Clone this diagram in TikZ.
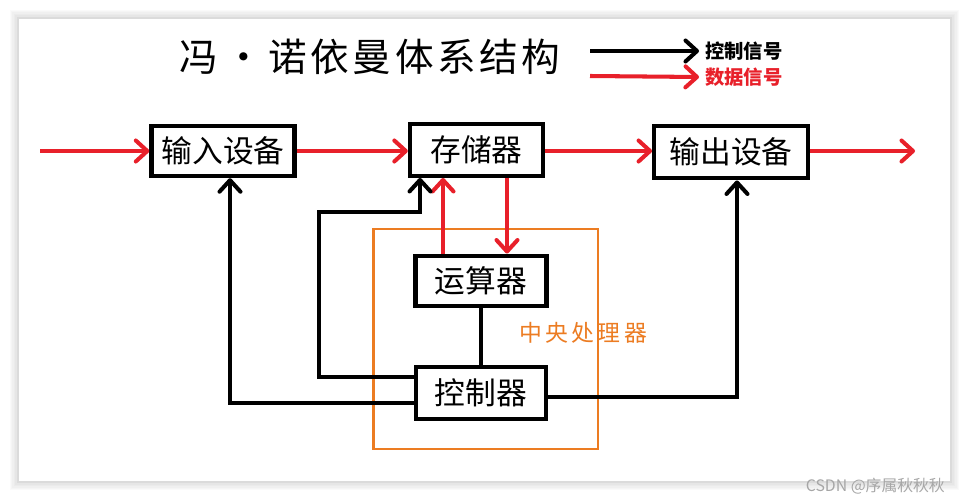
\documentclass[tikz,border=0pt]{standalone}
\usepackage{fontspec}
\usepackage{xcolor}
\usepackage{tikz}
\usetikzlibrary{positioning,arrows.meta}
\newfontfamily\cjk{Noto Sans CJK SC}
\newfontfamily\cjkwide[LetterSpace=9]{Noto Sans CJK SC}
\newfontfamily\cjkwider[LetterSpace=15]{Noto Sans CJK SC}
\definecolor{datared}{RGB}{232,32,42}
\definecolor{cpuorange}{RGB}{236,124,34}

\begin{document}
\begin{tikzpicture}[x=0.02cm, y=-0.02cm, font=\cjk,
    block/.style={rectangle, draw, line width=2.5pt, fill=white, font=\cjk\fontsize{17.5}{17.5}\selectfont, inner sep=2pt},
    sigarrow/.style={line width=2.3pt, -{Straight Barb[round, length=2.3mm, width=4.2mm]}},
    dataarrow/.style={sigarrow, draw=datared},
    wire/.style={line width=2.3pt},
    cpu/.style={rectangle, draw=cpuorange, line width=1.4pt, minimum width=4.49cm, minimum height=4.41cm}]

    \useasboundingbox (0,0) rectangle (969,500);
    \foreach \w in {1,...,6}
        \draw[black, opacity=0.02, line width=\w*1.6pt] (18,18) rectangle (951,482);
    \fill[white] (18,18) rectangle (951,482);
    \draw[black!14, line width=0.6pt] (18,18) rectangle (951,482);

    \node[font=\cjkwide\fontsize{22}{22}\selectfont] (title) at (370,57) {冯\hspace{0.15em}•\hspace{0.15em}诺依曼体系结构};
    \node[font=\cjk\bfseries\fontsize{11}{11}\selectfont, anchor=west] (lgsig) at (699,51) {控制信号};
    \node[font=\cjk\bfseries\fontsize{11}{11}\selectfont, anchor=west, text=datared] (lgdata) at (699,77) {数据信号};
    \coordinate (lgsigstart) at (590,51);
    \coordinate (lgdatastart) at (590,76);
    \draw[sigarrow] (lgsigstart) -- (lgsig.west);
    \draw[dataarrow] (lgdatastart) -- (lgdata.west);

    \node[cpu] (cpu) at (485.5,339) {};
    \node[text=cpuorange, font=\cjkwider\fontsize{13}{13}\selectfont] (cpulabel) at (583,333) {中央处理器};

    \node[block, minimum width=2.86cm, minimum height=1.0cm] (input) at (223,151) {输入设备};
    \node[block, minimum width=2.66cm, minimum height=1.03cm] (mem) at (476.5,150) {存储器};
    \node[block, minimum width=3.07cm, minimum height=1.05cm] (output) at (731,152) {输出设备};
    \node[block, minimum width=2.62cm, minimum height=1.01cm] (alu) at (481,281) {运算器};
    \node[block, minimum width=2.6cm, minimum height=1.03cm] (cu) at (481,393) {控制器};

    \coordinate (src) at (40,151);
    \coordinate (sink) at (915,151);
    \draw[dataarrow] (src) -- (input.west |- src);
    \draw[dataarrow] (input.east |- src) -- (mem.west |- src);
    \draw[dataarrow] (mem.east |- src) -- (output.west |- src);
    \draw[dataarrow] (output.east |- src) -- (sink);

    \coordinate (upfoot) at ([xshift=-0.76cm]alu.north);
    \coordinate (downfoot) at ([xshift=0.52cm]alu.north);
    \draw[dataarrow] (upfoot) -- (upfoot |- mem.south);
    \draw[dataarrow] (downfoot |- mem.south) -- (downfoot);

    \coordinate (bend) at (319,212);
    \draw[wire] (alu) -- (cu);
    \draw[sigarrow] ([yshift=-0.2cm]cu.west) -| ([xshift=0.14cm]input.south);
    \draw[sigarrow] ([yshift=0.32cm]cu.west) -| (bend) -| ([xshift=-1.13cm]mem.south);
    \draw[sigarrow] ([yshift=-0.08cm]cu.east) -| ([xshift=0.12cm]output.south);

    \node[anchor=east, text=black!35, font=\cjk\fontsize{9}{9}\selectfont] (mark) at (951,486) {CSDN @序属秋秋秋};
\end{tikzpicture}
\end{document}
